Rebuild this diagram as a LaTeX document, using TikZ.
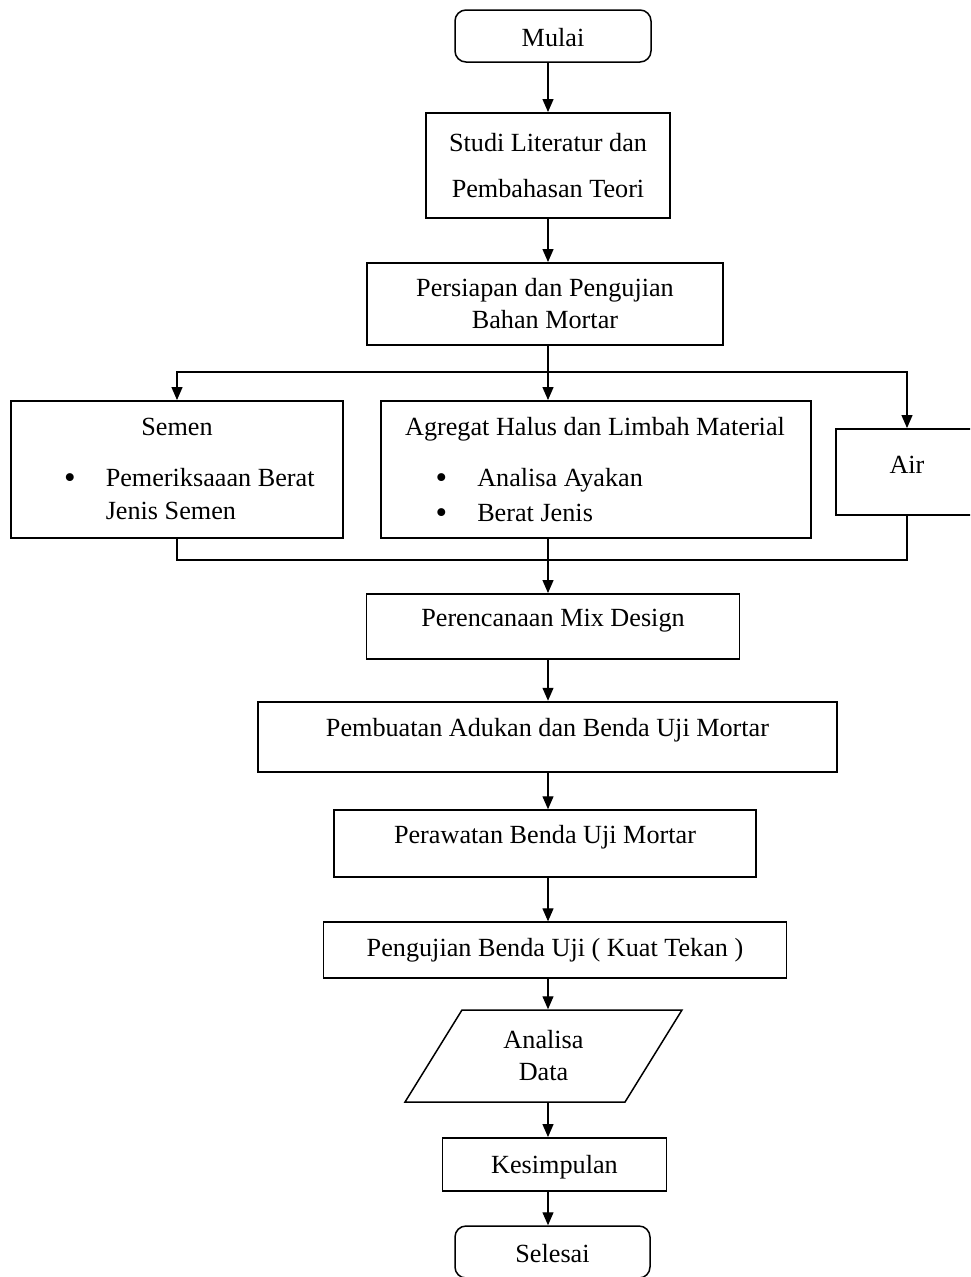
\documentclass[tikz,border=0pt]{standalone}
\usepackage{fontspec}
\setmainfont{Liberation Serif}
\usetikzlibrary{arrows.meta,shapes.geometric}
\newcommand{\butir}{\raisebox{-1.8pt}{\fontsize{33pt}{32pt}\selectfont\textbullet}}

\begin{document}
\begin{tikzpicture}[x=1pt, y=-1pt,
                        font=\fontsize{26.2pt}{32pt}\selectfont,
                        box/.style={draw, line width=1.9pt, inner sep=0pt, align=center},
                        term/.style={box, rounded corners=11pt, line width=1.5pt},
                        io/.style={draw, line width=1.5pt, trapezium, trapezium left angle=61,
                            trapezium right angle=119, trapezium stretches=true, inner sep=0pt, align=center},
                        arr/.style={-{Triangle[length=13pt,width=11pt]}, line width=1.2pt}]
        \useasboundingbox (0,0) rectangle (970,1277);
        \clip (0,0) rectangle (970,1277);
        \coordinate (spine) at (548,0);
        \coordinate (split) at (548,372);
        \coordinate (join) at (548,560);

        \node[term, minimum width=196pt, minimum height=52pt, text height=21pt, text depth=0pt] (mulai) at (553,36) {Mulai};
        \node[box, minimum width=244pt, minimum height=105pt] (studi) at (548,165.5) {Studi Literatur dan\\[14pt]Pembahasan Teori};
        \node[box, minimum width=356pt, minimum height=82pt] (persiapan) at (545,304) {Persiapan dan Pengujian\\Bahan Mortar};

        \node[box, minimum width=332pt, minimum height=137pt] (semen) at (177,469.5) {};
        \node[anchor=base, inner sep=0pt] (semenjudul) at (177,435) {Semen};
        \node[anchor=base west, inner sep=0pt] (semenisi) at (64,486.7) {\begin{tabular}[t]{@{}l@{\hspace{30pt}}l@{}}
                \butir & Pemeriksaaan Berat\\[1pt]
                & Jenis Semen
            \end{tabular}};

        \node[box, minimum width=430pt, minimum height=137pt] (agregat) at (596,469.5) {};
        \node[anchor=base, inner sep=0pt] (agregatjudul) at (595,435) {Agregat Halus dan Limbah Material};
        \node[anchor=base west, inner sep=0pt] (agregatisi) at (435.5,486.7) {\begin{tabular}[t]{@{}l@{\hspace{30pt}}l@{}}
                \butir & Analisa Ayakan\\[3pt]
                \butir & Berat Jenis
            \end{tabular}};

        \node[box, minimum width=142pt, minimum height=86pt, text height=18pt, text depth=16pt] (air) at (907,472) {Air};

        \node[box, minimum width=373pt, minimum height=65pt, text height=18pt, text depth=18pt] (mix) at (553,626.5) {Perencanaan Mix Design};
        \node[box, minimum width=579pt, minimum height=70pt, text height=18pt, text depth=18pt] (pembuatan) at (547.5,736.7) {Pembuatan Adukan dan Benda Uji Mortar};
        \node[box, minimum width=422pt, minimum height=67pt, text height=18pt, text depth=18pt] (perawatan) at (545,843.7) {Perawatan Benda Uji Mortar};
        \node[box, minimum width=463pt, minimum height=56pt, text height=18pt, text depth=5pt] (pengujian) at (555,950.3) {Pengujian Benda Uji ( Kuat Tekan )};
        \node[io, minimum width=277pt, minimum height=92pt] (analisa) at (543.5,1056) {Analisa\\Data};
        \node[box, minimum width=224pt, minimum height=53pt, text height=18pt, text depth=0.5pt] (kesimpulan) at (554.5,1164.5) {Kesimpulan};
        \node[term, minimum width=195pt, minimum height=52pt, text height=21pt, text depth=0pt] (selesai) at (552.5,1252) {Selesai};

        \draw[arr] (mulai.south -| spine) -- (studi.north -| spine);
        \draw[arr] (studi.south -| spine) -- (persiapan.north -| spine);
        \draw[line width=1.2pt] (persiapan.south -| spine) -- (split);
        \draw[arr] (split) -| (semen.north);
        \draw[arr] (split) -- (split |- agregat.north);
        \draw[arr] (split) -| (air.north);
        \draw[line width=1.2pt] (semen.south) |- (join) -| (air.south);
        \draw[arr] (agregat.south -| spine) -- (mix.north -| spine);
        \draw[arr] (mix.south -| spine) -- (pembuatan.north -| spine);
        \draw[arr] (pembuatan.south -| spine) -- (perawatan.north -| spine);
        \draw[arr] (perawatan.south -| spine) -- (pengujian.north -| spine);
        \draw[arr] (pengujian.south -| spine) -- (analisa.north -| spine);
        \draw[arr] (analisa.south -| spine) -- (kesimpulan.north -| spine);
        \draw[arr] (kesimpulan.south -| spine) -- (selesai.north -| spine);
    \end{tikzpicture}
\end{document}
